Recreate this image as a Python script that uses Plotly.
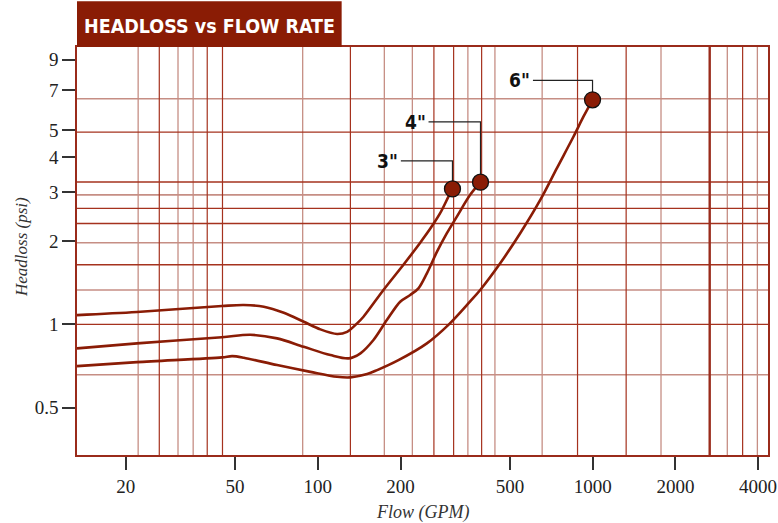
import math
import plotly.graph_objects as go

# ---- data ----
sizes = ['3"', '4"', '6"']

flow_3in = [13.3, 22.0, 44.8, 53.8, 63.6, 75.2, 88.9, 102.2, 117.5, 127.8, 139.0, 146.6,
            173.3, 204.9, 235.8, 256.3, 278.7, 298.8, 309]
head_3in = [1.080, 1.108, 1.164, 1.174, 1.158, 1.101, 1.022, 0.959, 0.923, 0.940, 1.008, 1.065,
            1.330, 1.640, 1.970, 2.210, 2.516, 2.888, 3.078]

flow_4in = [13.3, 22.0, 44.8, 56.8, 71.1, 88.9, 111.1, 129.7, 142.9, 159.4, 178.3, 199.4,
            216.8, 232.4, 249.4, 271.2, 294.9, 320.6, 358.4, 390.8]
head_4in = [0.819, 0.854, 0.898, 0.917, 0.890, 0.830, 0.775, 0.754, 0.786, 0.878, 1.036, 1.207,
            1.276, 1.349, 1.528, 1.824, 2.131, 2.446, 2.930, 3.255]

flow_6in = [13.3, 22.0, 44.8, 48.8, 53.8, 71.1, 94.0, 117.5, 131.4, 151.2, 164.4, 196.5,
            249.4, 300, 358.4, 389.8, 460.9, 545.0, 644.8, 741.3, 852.1, 926.7, 999]
head_6in = [0.707, 0.731, 0.760, 0.768, 0.758, 0.713, 0.674, 0.647, 0.644, 0.662, 0.684, 0.743,
            0.854, 1.0, 1.21, 1.330, 1.660, 2.131, 2.810, 3.659, 4.756, 5.617, 6.45]

x_tick_vals = [20, 50, 100, 200, 500, 1000, 2000, 4000]
x_tick_text = ["20", "50", "100", "200", "500", "1000", "2000", "4000"]
y_tick_vals = [0.5, 1, 2, 3, 4, 5, 7, 9]
y_tick_text = ["0.5", "1", "2", "3", "4", "5", "7", "9"]

# irregular grid of the printed chart
grid_x_light = [22.2, 31.0, 35.2, 88.1, 174.6, 220.8, 351.6, 441, 655, 1773, 3090, 3975]
grid_x_dark = [26.5, 39.6, 45.0, 131.4, 264.5, 312, 394.5, 881, 1324, 3513]
grid_x_heavy = [2666]
grid_y_light = [6.51, 2.93, 1.97, 1.33, 0.658]
grid_y_dark = [4.93, 3.26, 2.62, 2.31, 1.64, 1.0]

x_range = [13.3, 4345]
y_range = [0.338, 10.0]

# label leader geometry (relative to end marker)
leader_start_ratio = [0.649, 0.647, 0.607]
leader_rise_ratio = [1.2625, 1.651, 1.1746]

# ---- styles ----
RED = "#8a1c05"
GRID_DARK = "#a5321e"
GRID_LIGHT = "#c68e84"
SERIF = "Liberation Serif"
COND = "DejaVu Sans Condensed, Roboto, sans-serif"

fig = go.Figure()


def grid_trace(vals, vertical, color, width):
    xs, ys = [], []
    for v in vals:
        if vertical:
            xs += [v, v, None]
            ys += [0.05, 100, None]
        else:
            xs += [1, 100000, None]
            ys += [v, v, None]
    return go.Scatter(x=xs, y=ys, mode="lines", line=dict(color=color, width=width),
                      hoverinfo="skip", showlegend=False)


fig.add_trace(grid_trace(grid_x_light, True, GRID_LIGHT, 1.3))
fig.add_trace(grid_trace(grid_y_light, False, GRID_LIGHT, 1.6))
fig.add_trace(grid_trace(grid_x_dark, True, GRID_DARK, 1.2))
fig.add_trace(grid_trace(grid_y_dark, False, GRID_DARK, 1.3))
fig.add_trace(grid_trace(grid_x_heavy, True, "#9a2c1c", 2.4))

curves = [(flow_3in, head_3in), (flow_4in, head_4in), (flow_6in, head_6in)]
for fx, hy in curves:
    fig.add_trace(go.Scatter(x=fx, y=hy, mode="lines",
                             line=dict(color=RED, width=2.6, shape="spline", smoothing=0.9),
                             hoverinfo="skip", showlegend=False))

# leader lines
for (fx, hy), rs, rr in zip(curves, leader_start_ratio, leader_rise_ratio):
    xm, ym = fx[-1], hy[-1]
    fig.add_trace(go.Scatter(x=[xm * rs, xm, xm], y=[ym * rr, ym * rr, ym], mode="lines",
                             line=dict(color="#222222", width=1.2),
                             hoverinfo="skip", showlegend=False))

# end markers
fig.add_trace(go.Scatter(x=[c[0][-1] for c in curves], y=[c[1][-1] for c in curves],
                         mode="markers",
                         marker=dict(size=16, color=RED, line=dict(color="#111111", width=1.3)),
                         hoverinfo="skip", showlegend=False))

annotations = []
for (fx, hy), rs, rr, lab in zip(curves, leader_start_ratio, leader_rise_ratio, sizes):
    xm, ym = fx[-1], hy[-1]
    annotations.append(dict(x=math.log10(xm * rs), y=math.log10(ym * rr), xref="x", yref="y",
                            text="<b>" + lab + "</b>", showarrow=False, xanchor="right",
                            yanchor="middle", xshift=-1,
                            font=dict(family=COND, size=19, color="#111111")))

# title
annotations.append(dict(x=0.192, y=1.05, xref="paper", yref="paper",
                        text="<b>HEADLOSS vs FLOW RATE</b>", showarrow=False,
                        xanchor="center", yanchor="middle",
                        font=dict(family=COND, size=19.5, color="white")))
# axis titles
annotations.append(dict(x=0.5, y=0, xref="paper", yref="paper", text="Flow (GPM)",
                        showarrow=False, xanchor="center", yanchor="middle", yshift=-57,
                        font=dict(family=SERIF, size=18, color="#333333", style="italic")))
annotations.append(dict(x=0, y=0.5, xref="paper", yref="paper", text="Headloss (psi)",
                        showarrow=False, xanchor="center", yanchor="middle", xshift=-56,
                        yshift=4, textangle=-90,
                        font=dict(family=SERIF, size=17, color="#333333", style="italic")))

shapes = [dict(type="rect", xref="paper", yref="paper", x0=0, x1=0.383, y0=1.0, y1=1.112,
               fillcolor=RED, line=dict(width=0), layer="above")]

axis_common = dict(type="log", showgrid=False, zeroline=False, showline=True, mirror=True,
                   linecolor="#9a2b1b", linewidth=1.5, ticks="outside", ticklen=13,
                   tickwidth=2, tickcolor="#333333", automargin=False, showspikes=False,
                   tickfont=dict(family=SERIF, size=19, color="#222222"))

fig.update_layout(
    width=778, height=523,
    margin=dict(l=77, r=10, t=47, b=68),
    paper_bgcolor="white", plot_bgcolor="white",
    hovermode=False,
    xaxis=dict(range=[math.log10(x_range[0]), math.log10(x_range[1])],
               tickvals=x_tick_vals, ticktext=x_tick_text, **axis_common),
    yaxis=dict(range=[math.log10(y_range[0]), math.log10(y_range[1])],
               tickvals=y_tick_vals, ticktext=y_tick_text, **axis_common),
    annotations=annotations, shapes=shapes, showlegend=False,
)

fig.write_html("out.html", config={"displayModeBar": False},
               post_script="document.body.style.margin='0';document.body.style.overflow='hidden';")
